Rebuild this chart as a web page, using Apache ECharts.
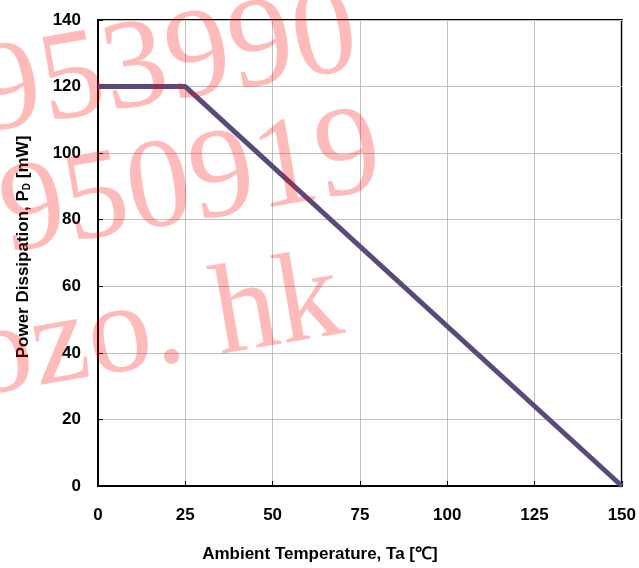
<!DOCTYPE html>
<html>
<head>
<meta charset="utf-8">
<script src="https://cdn.jsdelivr.net/npm/echarts@6/dist/echarts.min.js"></script>
<style>
  html, body { margin: 0; padding: 0; background: #fff; }
  #chart { width: 639px; height: 568px; }
</style>
</head>
<body>
<div id="chart"></div>
<script>
// derating curve
const temps = [0, 25, 150]
const power = [120, 120, 0]
const xTicks = [0, 25, 50, 75, 100, 125, 150]
const watermark = ['953990', '950919', 'ozo. hk']

const chart = echarts.init(document.getElementById('chart'))

const labelFont = {
  color: '#000',
  fontFamily: 'Liberation Sans',
  fontWeight: 'bold',
  fontSize: 17,
}

// pink stamp text laid over the whole chart
const wmText = (text, x, y) => ({
  type: 'text',
  x: x,
  y: y,
  rotation: 0.17,
  z: 100,
  silent: true,
  style: {
    text: text,
    fill: 'rgba(255, 0, 0, 0.27)',
    font: '128px "Liberation Serif"',
    align: 'left',
    verticalAlign: 'middle',
  },
})

const option = {
  animation: false,
  backgroundColor: '#fff',
  grid: {
    left: 98,
    right: 17,
    top: 20,
    bottom: 81,
    show: true,
    borderColor: '#000',
    borderWidth: 2,
  },
  xAxis: {
    type: 'value',
    min: xTicks[0],
    max: xTicks[xTicks.length - 1],
    interval: 25,
    name: 'Ambient Temperature, Ta [℃]',
    nameLocation: 'middle',
    nameGap: 60,
    nameTextStyle: { ...labelFont, padding: [0, 80, 0, 0] },
    axisLine: { lineStyle: { color: '#000', width: 2 } },
    axisTick: { inside: true, length: 5, lineStyle: { color: '#000' } },
    axisLabel: { ...labelFont, margin: 21 },
    splitLine: { lineStyle: { color: '#c0c0c0', width: 1 } },
  },
  yAxis: {
    type: 'value',
    min: 0,
    max: 140,
    interval: 20,
    name: 'Power Dissipation, P{sub|D} [mW]',
    nameLocation: 'middle',
    nameGap: 66,
    nameTextStyle: {
      ...labelFont,
      fontSize: 17,
      padding: [0, 0, 0, 12],
      rich: {
        sub: { ...labelFont, fontSize: 10, verticalAlign: 'bottom' },
      },
    },
    axisLine: { lineStyle: { color: '#000', width: 2 } },
    axisTick: { inside: true, length: 5, lineStyle: { color: '#000' } },
    axisLabel: { ...labelFont, margin: 17 },
    splitLine: { lineStyle: { color: '#c0c0c0', width: 1 } },
  },
  series: [
    {
      type: 'line',
      data: temps.map((t, i) => [t, power[i]]),
      symbol: 'none',
      lineStyle: { color: '#5a4a7b', width: 5 },
    },
  ],
  graphic: [
    wmText(watermark[0], -22, 99),
    wmText(watermark[1], 2, 219),
    wmText(watermark[2], -31, 363),
  ],
}

chart.setOption(option)
</script>
</body>
</html>
